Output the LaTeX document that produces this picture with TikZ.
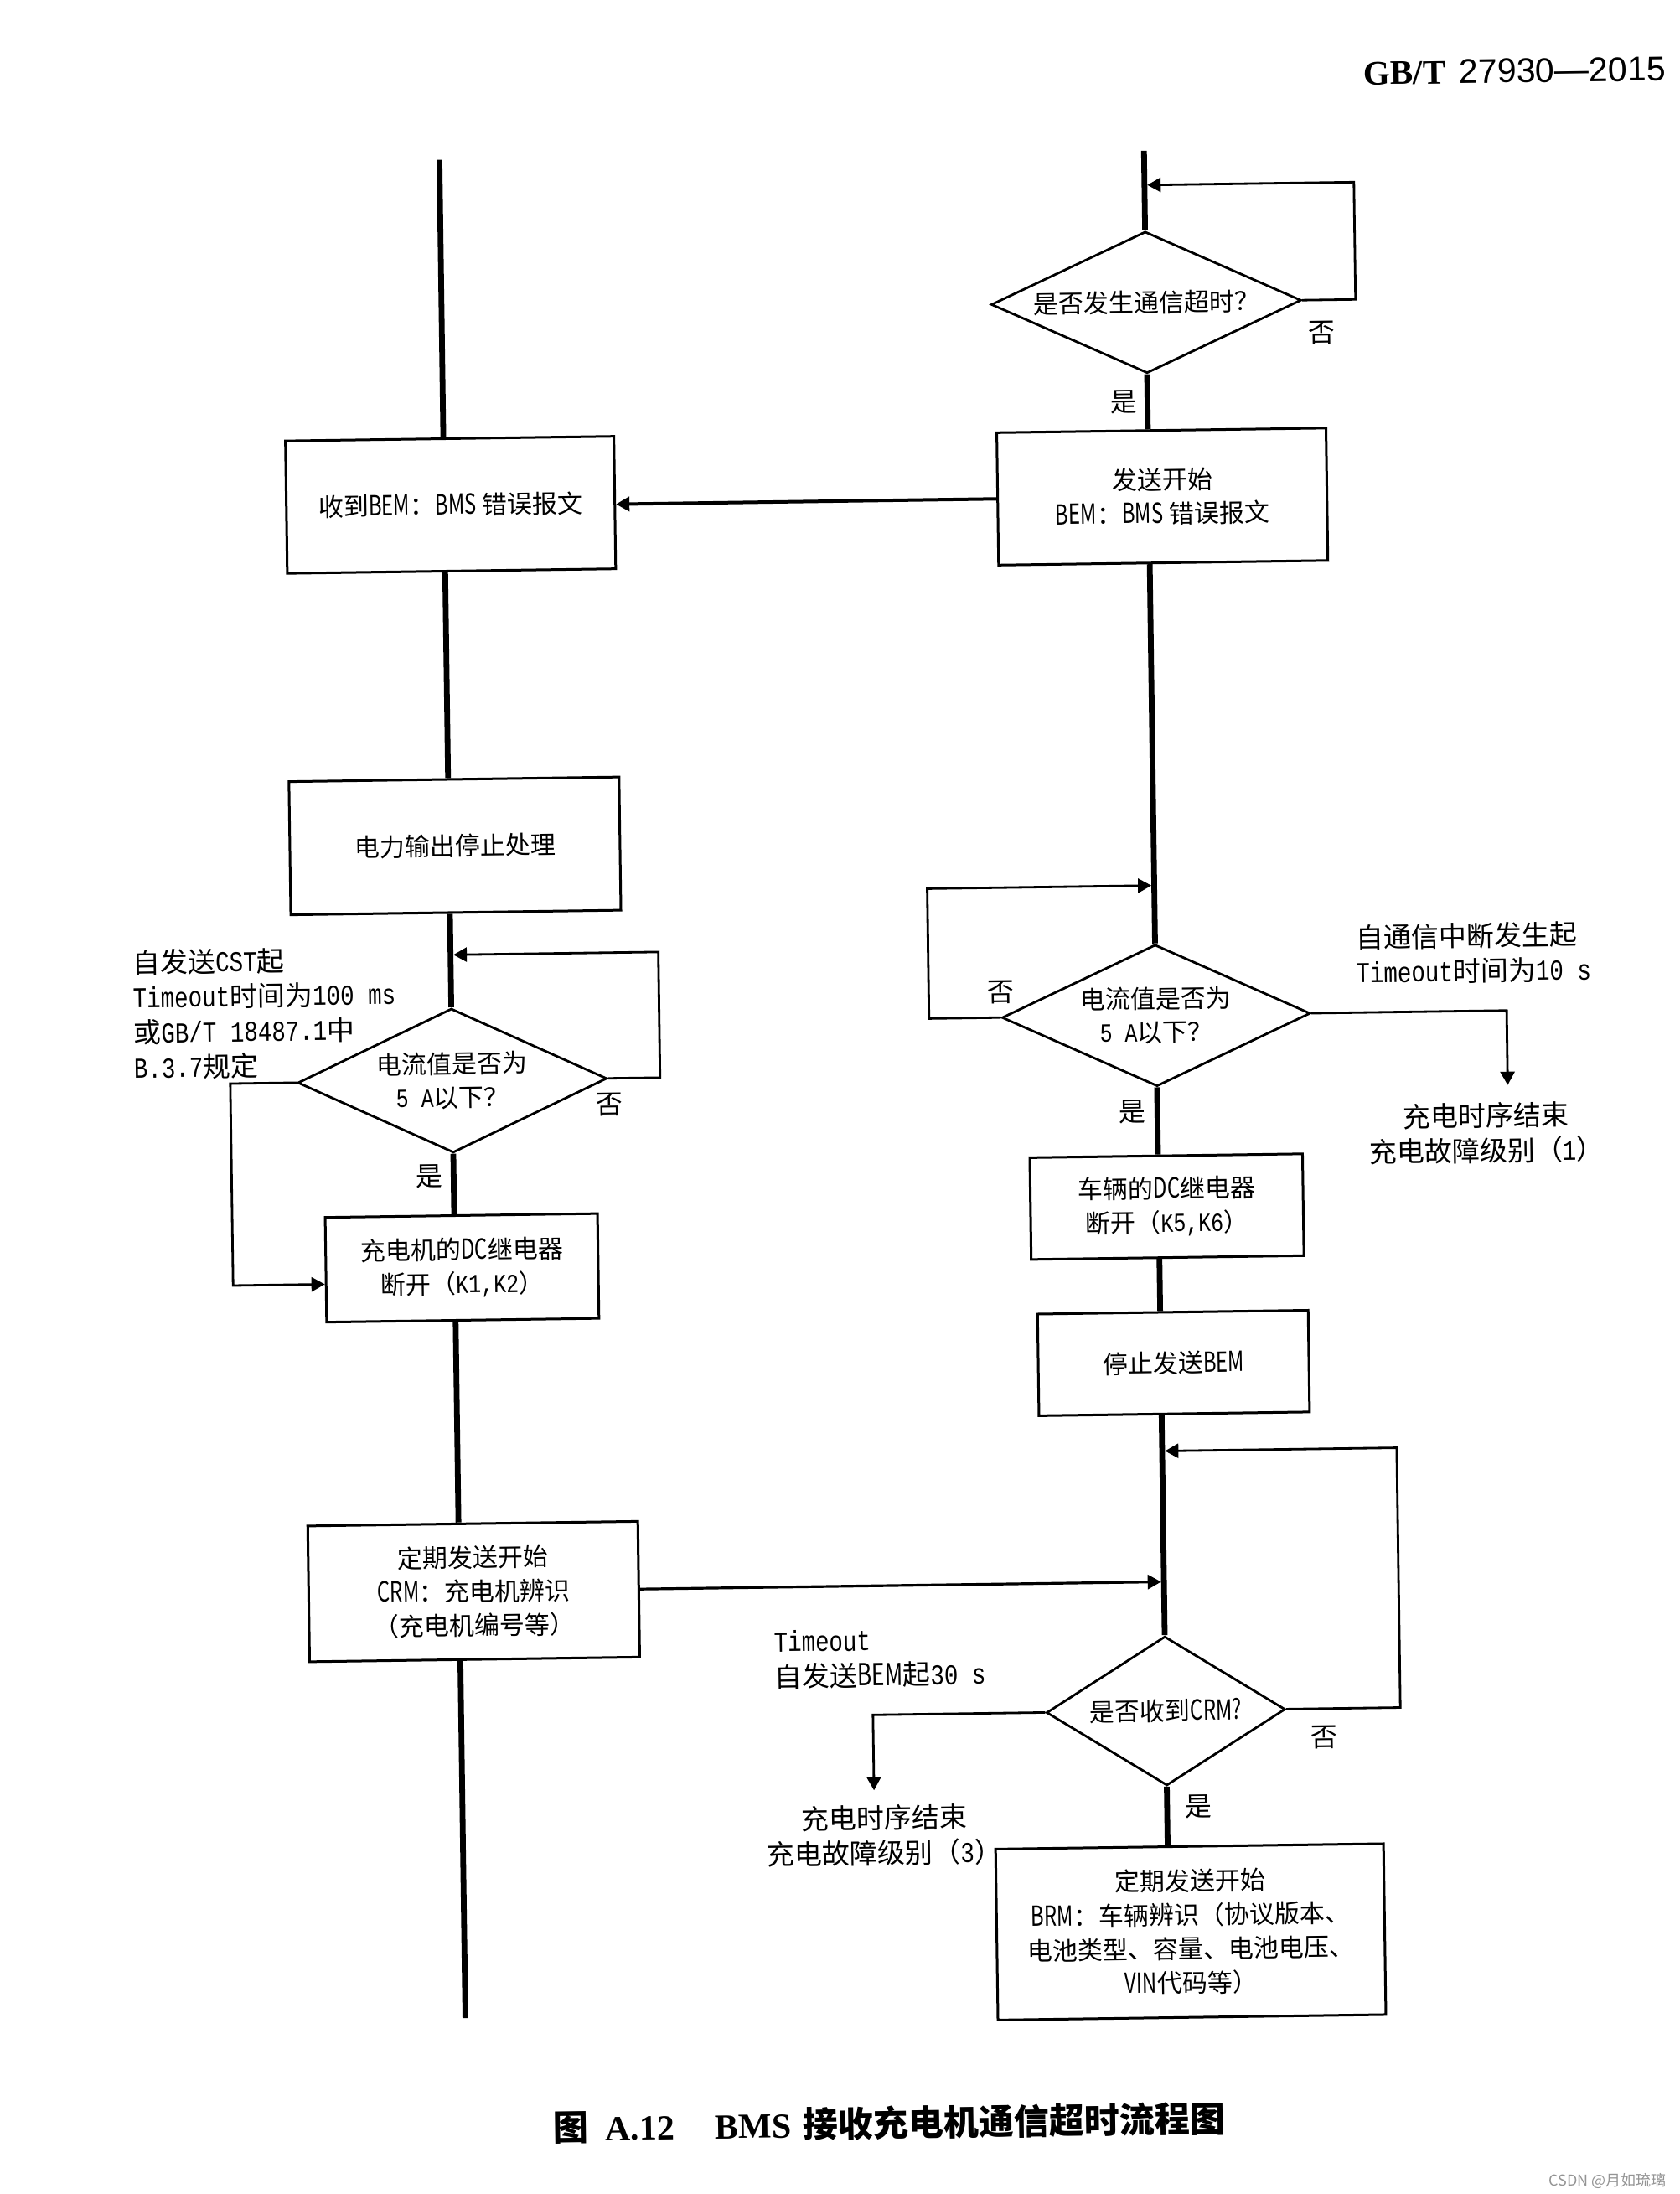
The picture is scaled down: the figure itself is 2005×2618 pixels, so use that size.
\documentclass[tikz,border=0pt]{standalone}
\usepackage{fontspec}
\usepackage{graphicx}
\setmainfont{Noto Sans CJK SC}
\newfontfamily\mono[Scale=0.833]{Liberation Mono}
\newfontfamily\tnr{Liberation Serif}
\newfontfamily\arial{Liberation Sans}
\newcommand\mtxt[1]{\scalebox{1}[1.25]{\mono #1}}
\newcommand\ctxt[1]{\scalebox{0.8}[1.1]{#1}}
\usetikzlibrary{shapes.geometric,arrows.meta,calc}
\begin{document}
\begin{tikzpicture}[x=0.5pt,y=-0.5pt,
  tl/.style={line width=3.4pt},
  box/.style={draw,line width=1.5pt,fill=white,align=center,inner sep=0pt,font=\fontsize{15}{20.3}\selectfont},
  dia/.style={diamond,aspect=2,draw,line width=1.4pt,fill=white,align=center,inner sep=0pt,font=\fontsize{15}{20}\selectfont},
  conn/.style={line width=1.4pt},
  arr/.style={conn,-{Triangle[length=8pt,width=8.5pt]}},
  note/.style={inner sep=0pt,font=\fontsize{16.5}{20.9}\selectfont},
  yn/.style={inner sep=0pt,font=\fontsize{16}{16}\selectfont},
]
\fill[white] (0,0) rectangle (2005,2618);
\path[use as bounding box] (0,0) rectangle (2005,2618);

\begin{scope}[rotate around={0.8:(1000,1300)},transform shape]
% header
\node[anchor=base east,inner sep=0pt] (hdr) at (2005,110)
  {{\tnr\bfseries\fontsize{20.5}{24}\selectfont GB/T}\hspace{8pt}{\arial\fontsize{20.5}{24}\selectfont 27930—2015}};

% timeline ends
\coordinate (Ltop) at (540,184);
\coordinate (Lbot) at (540,2402);
\coordinate (Rtop) at (1381,185);

% right column
\node[dia,minimum width=185pt,minimum height=84.5pt] (d1) at (1381,366) {是否发生通信超时？};
\node[box,minimum width=196.5pt,minimum height=79pt] (bemR) at (1397,598) {发送开始\\\ctxt{BEM}：\ctxt{BMS} 错误报文};
\node[dia,minimum width=184pt,minimum height=84.5pt] (d3) at (1381,1217) {电流值是否为\\\mtxt{5 A}以下？};
\node[box,minimum width=162.75pt,minimum height=60.75pt] (k56) at (1390.6,1445.3) {车辆的\ctxt{DC}继电器\\断开（\mtxt{K5,K6}）};
\node[box,minimum width=161.5pt,minimum height=60.7pt] (stop) at (1396,1632) {停止发送\ctxt{BEM}};
\node[dia,minimum width=142.5pt,minimum height=89pt] (d4) at (1381,2047) {是否收到\ctxt{CRM?}};
\node[box,minimum width=231.5pt,minimum height=102pt] (brm) at (1407,2311)
  {定期发送开始\\\ctxt{BRM}：车辆辨识（协议版本、\\电池类型、容量、电池电压、\\\ctxt{VIN}代码等）};

% left column
\node[box,minimum width=196pt,minimum height=79pt] (bemL) at (547.5,596) {收到\ctxt{BEM}：\ctxt{BMS} 错误报文};
\node[box,minimum width=197pt,minimum height=79.5pt] (p1) at (547,1003) {电力输出停止处理};
\node[dia,minimum width=184.5pt,minimum height=86pt] (d2) at (540,1283) {电流值是否为\\\mtxt{5 A}以下？};
\node[box,minimum width=162.5pt,minimum height=62.5pt] (k12) at (548.5,1506.6) {充电机的\ctxt{DC}继电器\\断开（\mtxt{K1,K2}）};
\node[box,minimum width=197pt,minimum height=81pt] (crm) at (557,1893) {定期发送开始\\\ctxt{CRM}：充电机辨识\\（充电机编号等）};

% timelines
\draw[tl] (Ltop) -- (bemL.north -| Ltop);
\draw[tl] (bemL.south -| Ltop) -- (p1.north -| Ltop);
\draw[tl] (p1.south -| Ltop) -- (d2.north);
\draw[tl] (d2.south) -- (k12.north -| Ltop);
\draw[tl] (k12.south -| Ltop) -- (crm.north -| Ltop);
\draw[tl] (crm.south -| Ltop) -- (Lbot);

\draw[tl] (Rtop) -- (d1.north);
\draw[tl] (d1.south) -- (bemR.north -| Rtop);
\draw[tl] (bemR.south -| Rtop) -- (d3.north);
\draw[tl] (d3.south) -- (k56.north -| Rtop);
\draw[tl] (k56.south -| Rtop) -- (stop.north -| Rtop);
\draw[tl] (stop.south -| Rtop) -- (d4.north);
\draw[tl] (d4.south) -- (brm.north -| Rtop);

% connectors
\coordinate (c1) at (1631,226);
\draw[arr,shorten >=1.7pt] (d1.east) -| (c1) -- (c1 -| Rtop);
\draw[arr,line width=2pt] (bemR.west) -- (bemR.west -| bemL.east);
\coordinate (c2) at (788,1133);
\draw[arr,shorten >=1.7pt] (d2.east) -| (c2) -- (c2 -| Ltop);
\coordinate (c3) at (275,1524);
\draw[arr] (d2.west) -| (c3) -- (c3 -| k12.west);
\coordinate (c4) at (1110,1062);
\draw[arr,shorten >=1.7pt] (d3.west) -| (c4) -- (c4 -| Rtop);
\coordinate (b1) at (1799.5,1306);
\draw[arr] (d3.east) -| (b1);
\draw[arr,line width=1.6pt,shorten >=1.7pt] (crm.east) -- (crm.east -| Rtop);
\coordinate (c5) at (1661,1737);
\draw[arr,shorten >=1.7pt] (d4.east) -| (c5) -- (c5 -| Rtop);
\coordinate (b2) at (1031.5,2137);
\draw[arr] (d4.west) -| (b2);

% yes / no labels
\node[yn] (n1) at (1590,405) {否};
\node[yn] (y1) at (1353,485) {是};
\node[yn] (n2) at (727,1314) {否};
\node[yn] (y2) at (511,1397) {是};
\node[yn] (n3) at (1196,1187) {否};
\node[yn] (y3) at (1351,1332) {是};
\node[yn] (n4) at (1569,2081) {否};
\node[yn] (y4) at (1418.5,2162) {是};

% notes
\node[note,align=left,anchor=west] (t1) at (160,1199.5)
  {自发送\mtxt{CST}起\\\mtxt{Timeout}时间为\mtxt{100 ms}\\或\mtxt{GB/T 18487.1}中\\\mtxt{B.3.7}规定};
\node[note,align=left,anchor=west] (t2) at (1620,1148)
  {自通信中断发生起\\\mtxt{Timeout}时间为\mtxt{10 s}};
\node[note,align=center] (t3) at (1773,1363) {充电时序结束\\充电故障级别（\mtxt{1}）};
\node[note,align=left,anchor=west] (t4) at (914,1980) {\mtxt{Timeout}\\自发送\ctxt{BEM}起\mtxt{30 s}};
\node[note,align=center] (t5) at (1043,2191) {充电时序结束\\充电故障级别（\mtxt{3}）};

% caption
\node[inner sep=0pt,font=\fontsize{21}{24}\selectfont\bfseries] (cap) at (1044,2534)
  {图\hspace{10pt}{\tnr A.12}\hspace{24pt}{\tnr BMS}\hspace{7pt}接收充电机通信超时流程图};
\end{scope}

% watermark
\node[anchor=east,inner sep=0pt,text=black!42,font=\fontsize{9}{10}\selectfont] (wm) at (1989,2602) {CSDN @月如琉璃};
\end{tikzpicture}
\end{document}
